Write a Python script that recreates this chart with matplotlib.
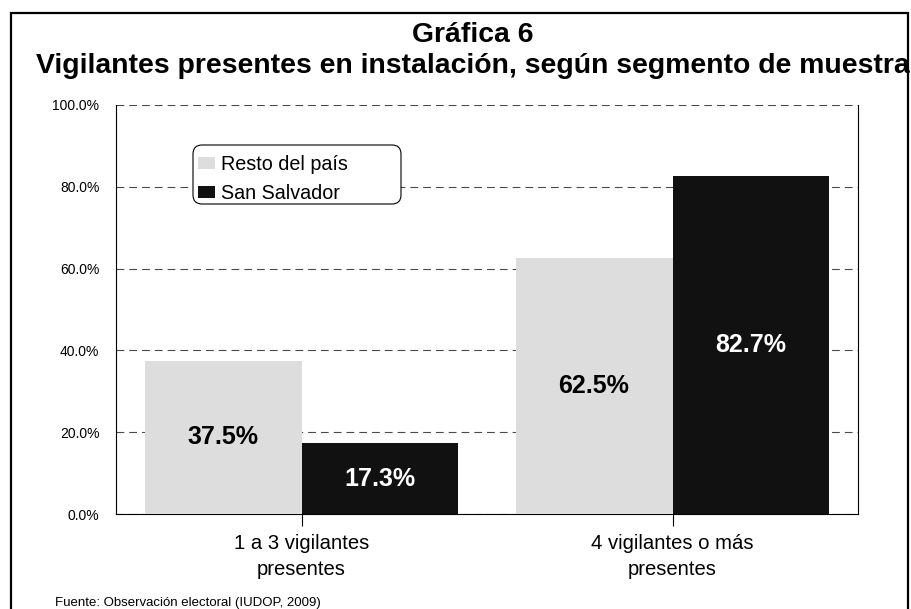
import matplotlib
matplotlib.use('Agg')
import matplotlib.pyplot as plt
import numpy as np
from matplotlib.patches import Rectangle, FancyBboxPatch
from matplotlib.transforms import IdentityTransform

# data
categorias = ['1 a 3 vigilantes\npresentes', '4 vigilantes o más\npresentes']
resto_pais = [37.5, 62.5]
san_salvador = [17.3, 82.7]
series = ['Resto del país', 'San Salvador']
yticks = [0, 20, 40, 60, 80, 100]

plt.rcParams['font.family'] = ['Liberation Sans', 'DejaVu Sans']

W, H = 911, 609
fig = plt.figure(figsize=(W / 100, H / 100), dpi=100)
fig.patch.set_facecolor('white')

# outer frame (bottom edge falls outside the picture, like the reference)
fig.patches.append(Rectangle((11 / W, -0.1), (908 - 11) / W, 1 - 13 / H + 0.1,
                             transform=fig.transFigure, fill=False,
                             edgecolor='black', linewidth=1.6))

ax = fig.add_axes([116 / W, 1 - 514 / H, (858 - 116) / W, (514 - 105) / H])

x = np.arange(len(categorias))
w = 0.423
b1 = ax.bar(x - w / 2, resto_pais, w, color='#dddddd', label=series[0], zorder=3)
b2 = ax.bar(x + w / 2, san_salvador, w, color='#111111', label=series[1], zorder=3)

# value labels in the middle of each bar
for rect, v in zip(b1, resto_pais):
    ax.text(rect.get_x() + rect.get_width() / 2, v / 2, f'{v:.1f}%', ha='center', va='center',
            fontsize=18, fontweight='bold', color='black', zorder=4)
for rect, v in zip(b2, san_salvador):
    ax.text(rect.get_x() + rect.get_width() / 2, v / 2, f'{v:.1f}%', ha='center', va='center',
            fontsize=18, fontweight='bold', color='white', zorder=4)

ax.set_xlim(-0.5, len(categorias) - 0.5)
ax.set_ylim(0, 100)
ax.set_yticks(yticks)
ax.set_yticklabels([f'{t:.1f}%' for t in yticks], fontsize=10)
ax.tick_params(axis='y', length=0, pad=12)
ax.set_xticks(x)
ax.set_xticklabels(categorias, fontsize=14.6, linespacing=1.45)
ax.tick_params(axis='x', length=8.6, width=0.8, direction='out', pad=6)
ax.yaxis.grid(True, linestyle=(0, (7, 4.5)), color='#4a4a4a', linewidth=0.8, zorder=0)
for s in ['left', 'right', 'bottom']:
    ax.spines[s].set_linewidth(0.8)
ax.spines['top'].set_visible(False)

# rounded legend box drawn in pixels, legend itself without frame
box = FancyBboxPatch((193, 405), 401 - 193, 464 - 405,
                     boxstyle='round,pad=0,rounding_size=9',
                     transform=IdentityTransform(), facecolor='white',
                     edgecolor='black', linewidth=0.8, zorder=4.5, clip_on=False)
ax.add_patch(box)
leg = ax.legend(loc='upper left', bbox_to_anchor=(0.1105, 0.878), fontsize=14.2, frameon=False,
                handlelength=0.86, handleheight=0.55, handletextpad=0.3, labelspacing=0.52,
                borderpad=0, borderaxespad=0)
leg.set_zorder(6)

fig.text(473 / W, 1 - 35 / H, 'Gráfica 6', ha='center', va='center', fontsize=20.4, fontweight='bold')
fig.text(473 / W, 1 - 66 / H, 'Vigilantes presentes en instalación, según segmento de muestra',
         ha='center', va='center', fontsize=20.4, fontweight='bold')
fig.text(55 / W, 1 - 603 / H, 'Fuente: Observación electoral (IUDOP, 2009)', ha='left', va='center',
         fontsize=9.5)

fig.savefig('out.png', dpi=100)
